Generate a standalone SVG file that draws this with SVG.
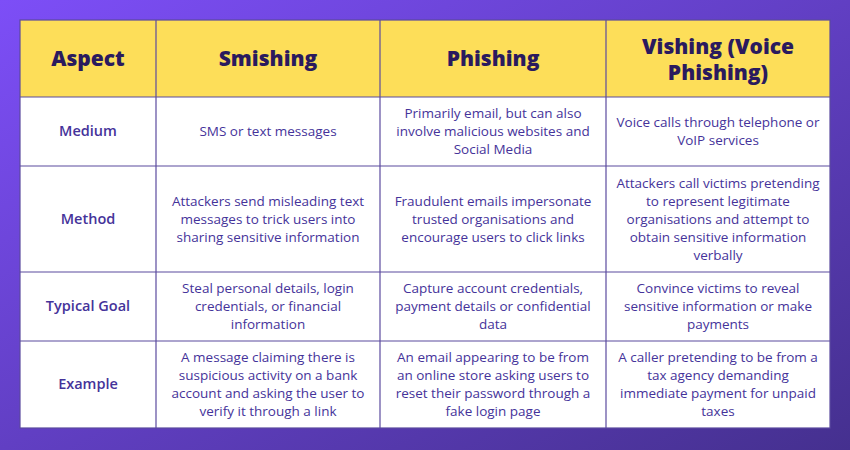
<svg xmlns="http://www.w3.org/2000/svg" width="850" height="450" viewBox="0 0 850 450">
<defs>
<linearGradient id="bg" x1="0" y1="0" x2="1" y2="1">
<stop offset="0" stop-color="#7d4ef7"/>
<stop offset="1" stop-color="#45308f"/>
</linearGradient>
<style>
.h{font-family:"Open Sans","Liberation Sans",sans-serif;font-weight:800;font-size:21px;fill:#2a1a5e;text-anchor:middle}
.a{font-family:"Open Sans","Liberation Sans",sans-serif;font-weight:600;font-size:14.5px;fill:#45339a;text-anchor:middle}
.t{font-family:"Open Sans","Liberation Sans",sans-serif;font-size:13.5px;fill:#45339a;text-anchor:middle}
.g{stroke:#5b4a9e;stroke-width:1.2;fill:none}
</style>
</defs>
<rect width="850" height="450" fill="url(#bg)"/>
<rect x="20" y="20" width="810" height="77" fill="#fdde59"/>
<rect x="20" y="97" width="810" height="331" fill="#ffffff"/>
<g id="grid" class="g">
<rect x="20" y="20" width="810" height="408"/>
<line x1="20" y1="97" x2="830" y2="97"/>
<line x1="20" y1="166" x2="830" y2="166"/>
<line x1="20" y1="272" x2="830" y2="272"/>
<line x1="20" y1="341" x2="830" y2="341"/>
<line x1="156" y1="20" x2="156" y2="428"/>
<line x1="380" y1="20" x2="380" y2="428"/>
<line x1="606" y1="20" x2="606" y2="428"/>
</g>
<g id="header">
<text class="h" x="88" y="66">Aspect</text>
<text class="h" x="268" y="66">Smishing</text>
<text class="h" x="493" y="66">Phishing</text>
<text class="h" x="718" y="54">Vishing (Voice</text>
<text class="h" x="718" y="80">Phishing)</text>
</g>
<g id="medium">
<text class="a" x="88" y="136">Medium</text>
<text class="t" x="268" y="136">SMS or text messages</text>
<text class="t" x="493" y="118">Primarily email, but can also</text>
<text class="t" x="493" y="136">involve malicious websites and</text>
<text class="t" x="493" y="154">Social Media</text>
<text class="t" x="718" y="127">Voice calls through telephone or</text>
<text class="t" x="718" y="145">VoIP services</text>
</g>
<g id="method">
<text class="a" x="88" y="224">Method</text>
<text class="t" x="268" y="206">Attackers send misleading text</text>
<text class="t" x="268" y="224">messages to trick users into</text>
<text class="t" x="268" y="242">sharing sensitive information</text>
<text class="t" x="493" y="206">Fraudulent emails impersonate</text>
<text class="t" x="493" y="224">trusted organisations and</text>
<text class="t" x="493" y="242">encourage users to click links</text>
<text class="t" x="718" y="188">Attackers call victims pretending</text>
<text class="t" x="718" y="206">to represent legitimate</text>
<text class="t" x="718" y="224">organisations and attempt to</text>
<text class="t" x="718" y="242">obtain sensitive information</text>
<text class="t" x="718" y="260">verbally</text>
</g>
<g id="goal">
<text class="a" x="88" y="311">Typical Goal</text>
<text class="t" x="268" y="293">Steal personal details, login</text>
<text class="t" x="268" y="311">credentials, or financial</text>
<text class="t" x="268" y="329">information</text>
<text class="t" x="493" y="293">Capture account credentials,</text>
<text class="t" x="493" y="311">payment details or confidential</text>
<text class="t" x="493" y="329">data</text>
<text class="t" x="718" y="293">Convince victims to reveal</text>
<text class="t" x="718" y="311">sensitive information or make</text>
<text class="t" x="718" y="329">payments</text>
</g>
<g id="example">
<text class="a" x="88" y="389">Example</text>
<text class="t" x="268" y="362">A message claiming there is</text>
<text class="t" x="268" y="380">suspicious activity on a bank</text>
<text class="t" x="268" y="398">account and asking the user to</text>
<text class="t" x="268" y="416">verify it through a link</text>
<text class="t" x="493" y="362">An email appearing to be from</text>
<text class="t" x="493" y="380">an online store asking users to</text>
<text class="t" x="493" y="398">reset their password through a</text>
<text class="t" x="493" y="416">fake login page</text>
<text class="t" x="718" y="362">A caller pretending to be from a</text>
<text class="t" x="718" y="380">tax agency demanding</text>
<text class="t" x="718" y="398">immediate payment for unpaid</text>
<text class="t" x="718" y="416">taxes</text>
</g>
</svg>
